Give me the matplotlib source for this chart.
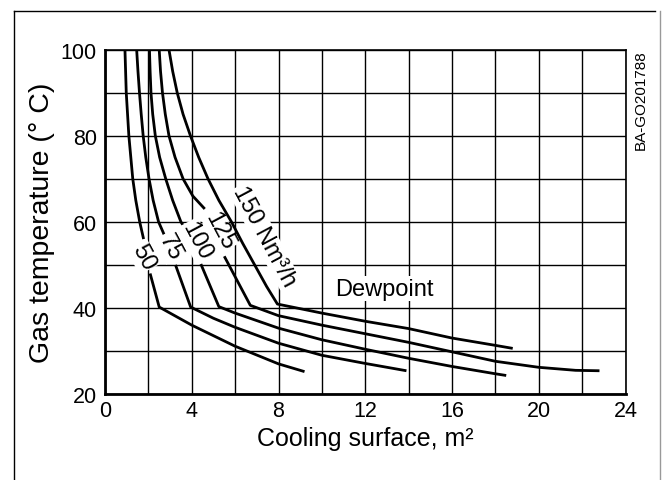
import matplotlib
matplotlib.use("Agg")
import matplotlib.pyplot as plt

plt.rcParams['font.family'] = ['Liberation Sans', 'DejaVu Sans']

# DATA: cooling surface [m2] vs gas temperature [C]
# each flow rate: upper part (above label gap) and lower part (to dewpoint and beyond)
x50_top = [0.92, 0.98, 1.10, 1.28, 1.42, 1.60, 1.78]
y50_top = [100, 90, 80, 70, 65, 60, 56]
x50_low = [2.08, 2.50, 4.0, 6.0, 8.0, 9.2]
y50_low = [48, 40.2, 36.0, 31.1, 27.0, 25.2]

x75_top = [1.46, 1.52, 1.59, 1.67, 1.76, 1.88, 2.03, 2.22, 2.47, 2.73]
y75_top = [100, 95, 90, 85, 80, 75, 70, 65, 60, 57]
x75_low = [3.25, 3.95, 5.0, 6.0, 8.0, 10.0, 12.0, 13.9]
y75_low = [50, 40.2, 37.6, 35.5, 31.8, 29.0, 27.1, 25.4]

x100_top = [2.05, 2.08, 2.12, 2.20, 2.32, 2.52, 2.80, 3.12, 3.50, 3.75]
y100_top = [100, 95, 90, 85, 80, 75, 70, 65, 60, 58]
x100_low = [4.42, 5.25, 6.0, 8.0, 10.0, 12.0, 14.0, 16.0, 18.0, 18.5]
y100_low = [50.2, 40.3, 38.8, 35.3, 32.6, 30.4, 28.3, 26.4, 24.7, 24.3]

x125_top = [2.50, 2.56, 2.65, 2.78, 2.95, 3.23, 3.60, 4.05, 4.60]
y125_top = [100, 95, 90, 85, 80, 75, 70, 66, 63]
x125_low = [5.50, 6.70, 8.0, 10.0, 12.0, 14.0, 16.0, 18.0, 20.0, 21.7, 22.8]
y125_low = [52, 40.6, 38.2, 36.0, 34.0, 32.0, 29.8, 27.6, 26.2, 25.5, 25.4]

x150 = [2.95, 3.12, 3.33, 3.60, 3.94, 4.32, 4.75, 5.25, 5.83, 6.35, 6.90, 7.45, 7.95,
        10.0, 12.0, 14.0, 16.0, 18.0, 18.8]
y150 = [100, 95, 90, 85, 80, 75, 70, 65, 60, 55, 50, 45, 40.9,
        38.8, 36.9, 35.2, 33.0, 31.3, 30.6]

flow_labels = ['50', '75', '100', '125', '150 Nm³/h']
label_x = [1.77, 3.0, 4.23, 5.3, 7.35]
label_y = [51.8, 54.2, 55.7, 58.0, 56.8]

xticks = [0, 4, 8, 12, 16, 20, 24]
yticks = [20, 40, 60, 80, 100]

fig = plt.figure(figsize=(6.62, 4.81), dpi=100)
ax = fig.add_axes([105/662, 1 - 395/481, 520.5/662, 344.3/481])

lw = 2.0
for xs, ys in [(x50_top, y50_top), (x50_low, y50_low),
               (x75_top, y75_top), (x75_low, y75_low),
               (x100_top, y100_top), (x100_low, y100_low),
               (x125_top, y125_top), (x125_low, y125_low),
               (x150, y150)]:
    ax.plot(xs, ys, color='black', lw=lw, solid_capstyle='butt',
            solid_joinstyle='round', zorder=3)

for s, tx, ty in zip(flow_labels, label_x, label_y):
    ax.text(tx, ty, s, rotation=-62, ha='center', va='center', fontsize=17,
            rotation_mode='anchor', zorder=4,
            bbox=dict(facecolor='white', edgecolor='none', pad=0.5))

ax.text(12.86, 44.5, 'Dewpoint', ha='center', va='center', fontsize=17, zorder=4,
        bbox=dict(facecolor='white', edgecolor='none', pad=1))

ax.set_xlim(0, 24)
ax.set_ylim(20, 100)
ax.set_xticks(xticks)
ax.set_yticks(yticks)
ax.set_xticks(range(0, 25, 2), minor=True)
ax.set_yticks(range(20, 101, 10), minor=True)
ax.grid(True, which='both', color='black', lw=1.0, zorder=1)
ax.tick_params(which='both', length=0, labelsize=15.5)
ax.tick_params(axis='y', pad=6)
ax.tick_params(axis='x', pad=4)
for side in ['left', 'bottom']:
    ax.spines[side].set_linewidth(2.0)
for side in ['top', 'right']:
    ax.spines[side].set_linewidth(1.2)

ax.set_xlabel('Cooling surface, m²', fontsize=18, labelpad=4)
ax.set_ylabel('Gas temperature (° C)', fontsize=20.5, labelpad=4)

fig.text(641/662, 1 - 100/481, 'BA-GO201788', rotation=90, ha='center', va='center', fontsize=11)

# frame around the figure
fig.add_artist(plt.Line2D([14/662, 14/662], [0, 1 - 12/481], color='black', lw=1.0,
                          transform=fig.transFigure))
fig.add_artist(plt.Line2D([14/662, 655/662], [1 - 12/481, 1 - 12/481], color='black', lw=1.0,
                          transform=fig.transFigure))
fig.add_artist(plt.Line2D([660/662, 660/662], [0, 1 - 12/481], color='0.6', lw=1.0,
                          transform=fig.transFigure))

fig.savefig('out.png', dpi=100)
